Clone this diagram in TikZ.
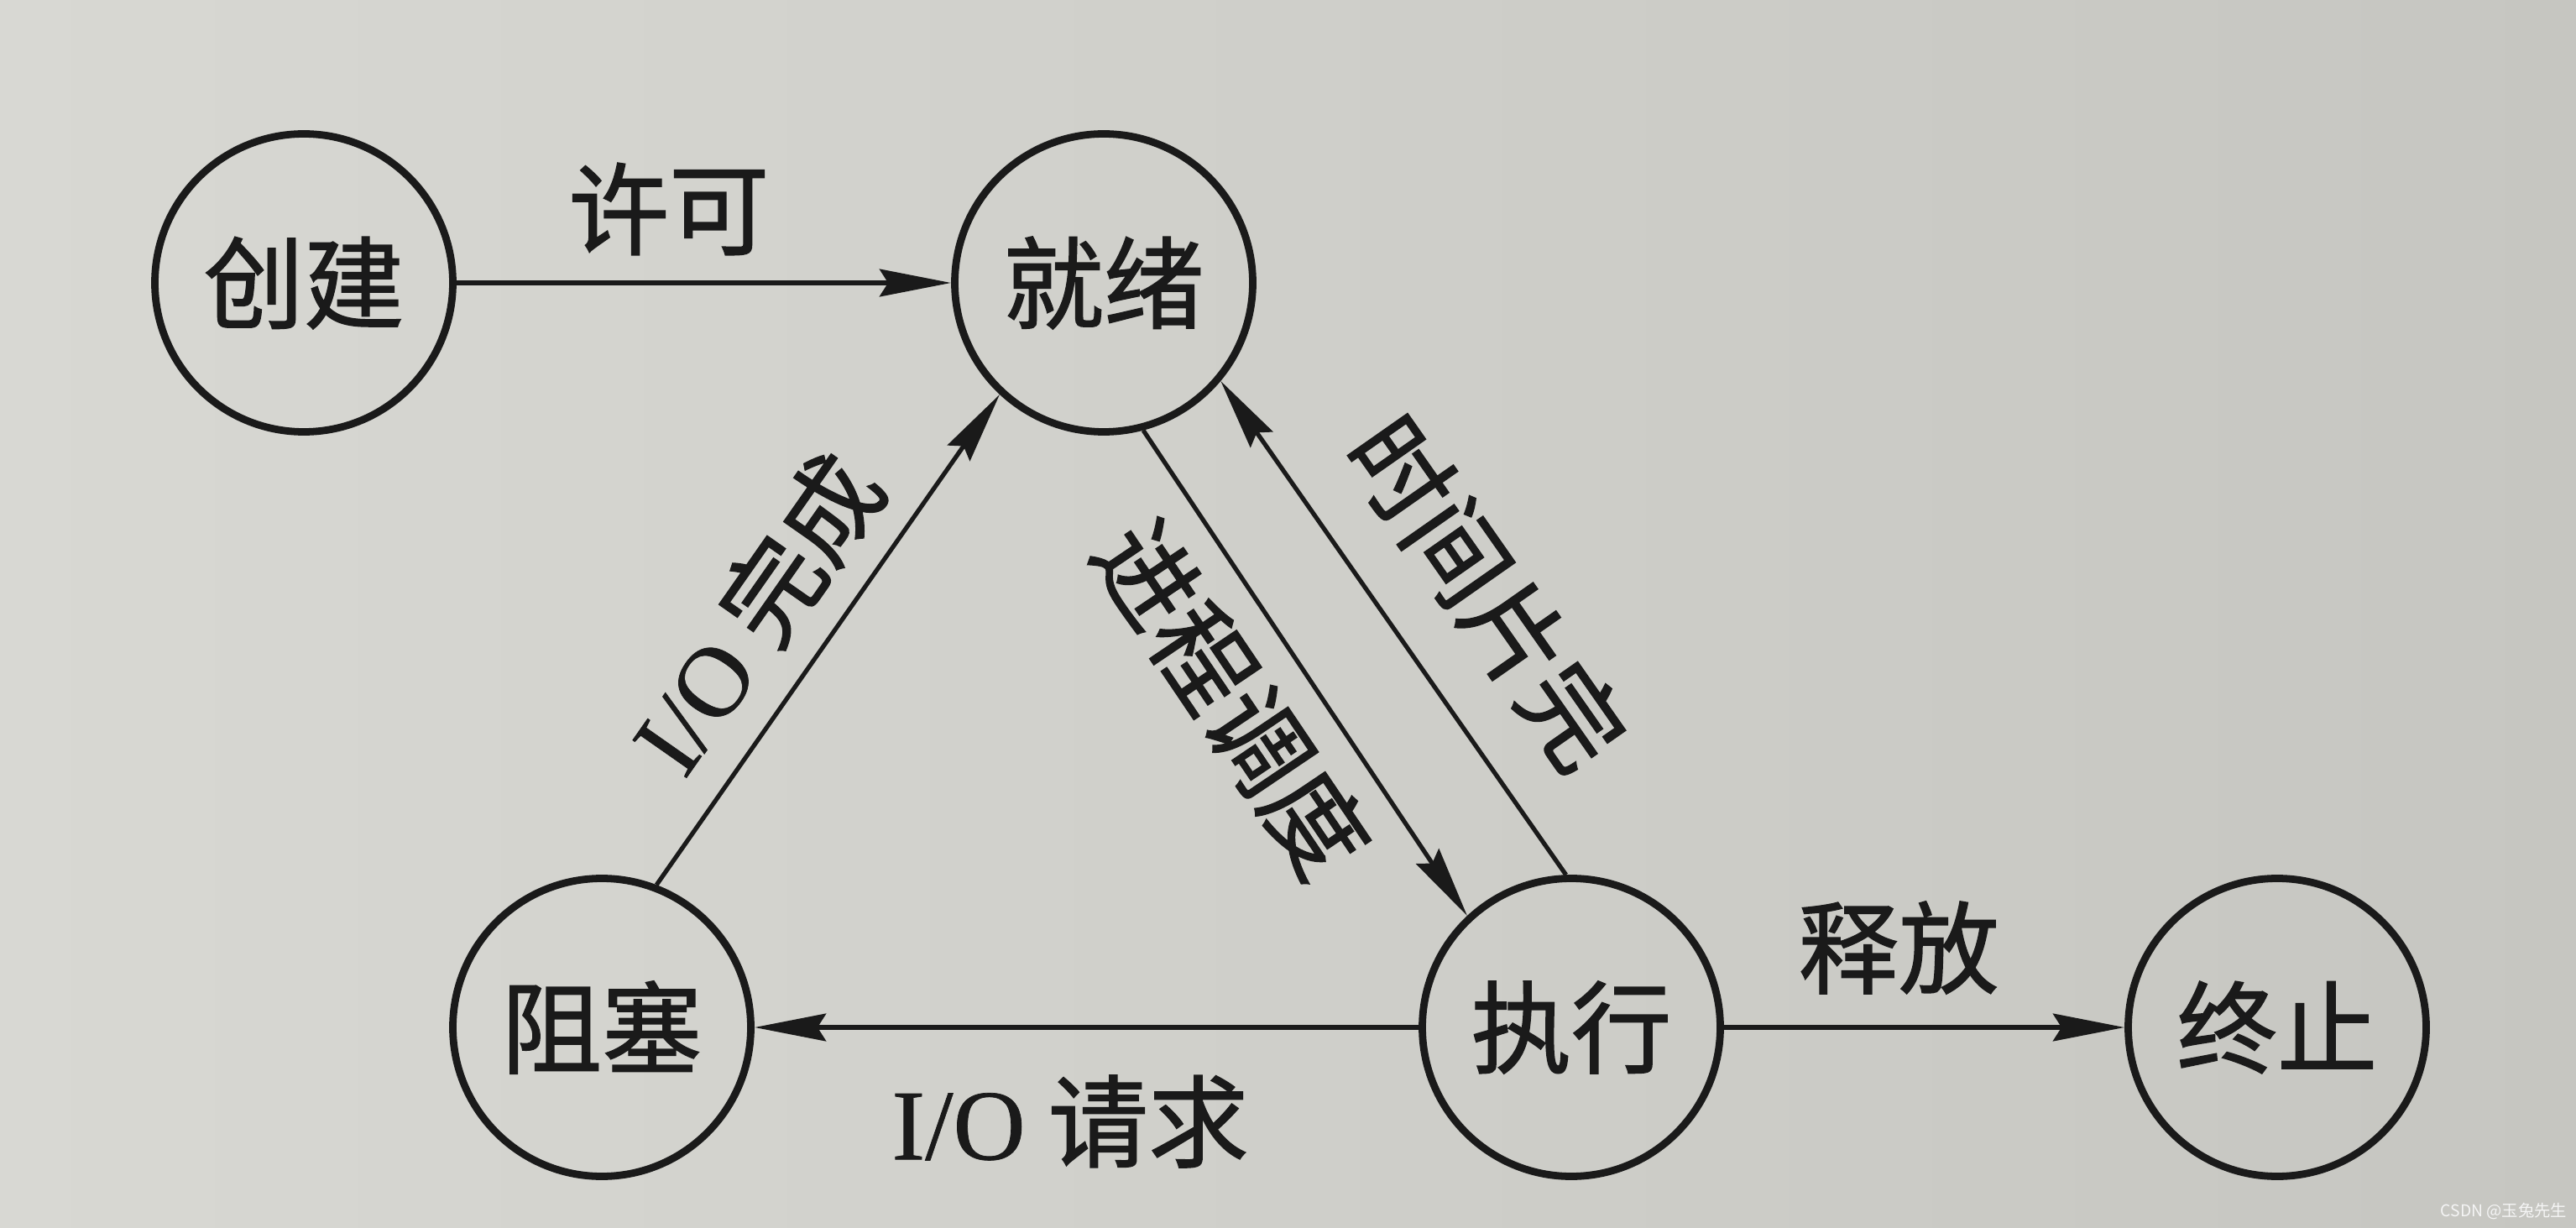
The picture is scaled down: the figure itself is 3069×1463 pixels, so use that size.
\documentclass[tikz,border=0pt]{standalone}
\usepackage{fontspec}
\setmainfont{Liberation Serif}[FakeBold=0.6]
\newfontfamily\cjk{Noto Sans CJK SC}[FakeBold=1.3]
\newfontfamily\wmfont{Noto Sans CJK SC}
\usetikzlibrary{arrows.meta}
\definecolor{paperL}{RGB}{216,216,211}
\definecolor{paperR}{RGB}{198,198,193}
\definecolor{ink}{RGB}{26,26,26}
\tikzset{
  state/.style={circle, draw=ink, line width=5pt, minimum size=71mm, inner sep=0pt,
    font=\cjk\fontsize{68pt}{72pt}\selectfont, text=ink},
  lbl/.style={inner sep=0pt, font=\cjk\fontsize{68pt}{72pt}\selectfont, text=ink},
  arr/.style={draw=ink, line width=3.6pt, -{Stealth[length=17mm,width=6.5mm,inset=2mm]}},
  darr/.style={draw=ink, line width=3pt, -{Stealth[length=17mm,width=6.5mm,inset=2mm]}},
}
\begin{document}
\begin{tikzpicture}[x=0.2mm,y=-0.2mm]
\shade[left color=paperL, right color=paperR] (0,0) rectangle (3069,1463);
\useasboundingbox (0,0) rectangle (3069,1463);

\node[state] (create) at (362,337) {创建};
\node[state] (ready)  at (1315,337) {就绪};
\node[state] (block)  at (717,1224) {阻塞};
\node[state] (run)    at (1872,1224) {执行};
\node[state] (term)   at (2713,1224) {终止};

\draw[arr] (create) -- (ready);
\draw[arr] (run) -- (block);
\draw[arr] (run) -- (term);
\draw[darr] (block.69) -- (ready.227);
\draw[darr] (ready.285) -- (run.133);
\draw[darr] (run.92) -- (ready.-40);

\node[lbl] (l1) at (797,249) {许可};
\node[lbl, rotate=55] (l2) at (900,730) {{\rmfamily I/O} 完成};
\node[lbl, rotate=-56] (l3) at (1468,832) {进程调度};
\node[lbl, rotate=-55] (l4) at (1772,706) {时间片完};
\node[lbl] (l5) at (1275,1336) {{\rmfamily I/O} 请求};
\node[lbl] (l6) at (2262,1129) {释放};

\node[inner sep=0pt, font=\wmfont\fontsize{11pt}{12pt}\selectfont, text=white!92!gray] (wm) at (2983,1443) {CSDN @玉兔先生};
\end{tikzpicture}
\end{document}
